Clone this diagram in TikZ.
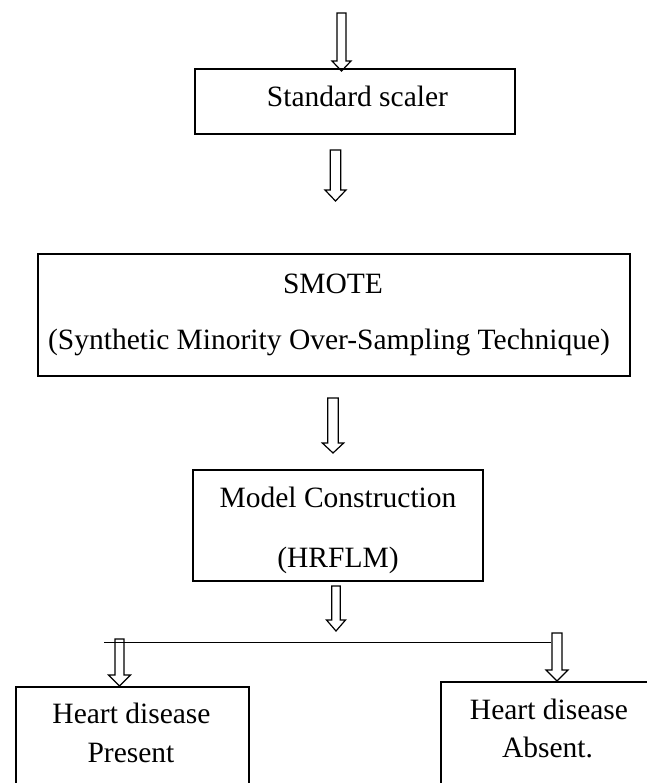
\documentclass[tikz,border=0pt]{standalone}
\usepackage{fontspec}
\setmainfont{Liberation Serif}
\newcommand\hollowdown[7]{%
  \draw[harrow] (#1-#2,#4) -- (#1+#2,#4) -- (#1+#2,#5) -- (#1+#3,#5)
    -- (#1,#6) coordinate (#7) -- (#1-#3,#5) -- (#1-#2,#5) -- cycle;}
\begin{document}
\begin{tikzpicture}[x=1pt,y=-1pt,
  boxshape/.style={draw,line width=1.5pt,rectangle,inner sep=0pt},
  txt/.style={inner sep=0pt,anchor=base,font=\fontsize{29.5}{35}\selectfont},
  harrow/.style={draw,line width=1.2pt,line join=miter},
  branch/.style={draw,line width=0.9pt}]
\useasboundingbox (0,0) rectangle (646,783);
% boxes
\node[boxshape,minimum width=320,minimum height=65] (std) at (355,101.5) {};
\node[boxshape,minimum width=592,minimum height=122] (smote) at (334,315) {};
\node[boxshape,minimum width=290,minimum height=111] (model) at (338,525.5) {};
\node[boxshape,minimum width=233,minimum height=120,anchor=north west] (present) at (15,686) {};
\node[boxshape,minimum width=260,minimum height=120,anchor=north west] (absent) at (440,681) {};
% texts
\node[txt] (t1) at (357.5,107) {Standard scaler};
\node[txt] (t2) at (333,293) {SMOTE};
\node[txt] (t3) at (329,349) {(Synthetic Minority Over-Sampling Technique)};
\node[txt] (t4) at (338,507) {Model Construction};
\node[txt] (t5) at (338,567) {(HRFLM)};
\node[txt] (t6) at (131.5,723) {Heart disease};
\node[txt] (t7) at (131,762) {Present};
\node[txt] (t8) at (549,719) {Heart disease};
\node[txt] (t9) at (547.5,757) {Absent.};
% branch line
\coordinate (bl) at (104,642);
\coordinate (br) at (551,642);
\draw[branch] (bl) -- (br);
% arrows
\hollowdown{341.5}{4.5}{9.5}{13}{61}{71}{a1}
\hollowdown{335.5}{5.3}{10.5}{150}{190}{201}{a2}
\hollowdown{333}{5.2}{10.7}{398}{443}{453}{a3}
\hollowdown{336}{4.2}{9.5}{586}{620}{631}{a4}
\hollowdown{119.5}{4.5}{11}{639}{675}{686}{a5}
\hollowdown{557}{5}{11}{633}{670}{681}{a6}
\end{tikzpicture}
\end{document}
